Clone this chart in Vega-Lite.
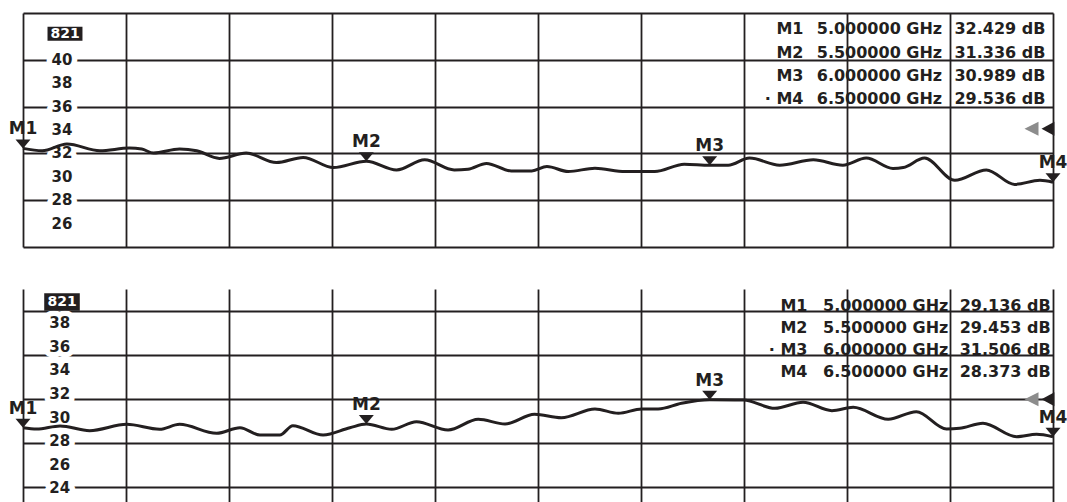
{
  "$schema": "https://vega.github.io/schema/vega-lite/v6.json",
  "padding": {"left": 8, "top": 13, "right": 0, "bottom": 0},
  "background": "white",
  "spacing": 42,
  "config": {
    "view": {"stroke": null},
    "text": {"font": "DejaVu Sans", "fontWeight": "bold", "color": "#231f20"}
  },
  "datasets": {
    "traceTop": [
      {"f": 5.000, "db": 32.429}, {"f": 5.028, "db": 32.22}, {"f": 5.064, "db": 32.80}, {"f": 5.112, "db": 32.22},
      {"f": 5.155, "db": 32.46}, {"f": 5.173, "db": 32.37}, {"f": 5.190, "db": 32.03}, {"f": 5.228, "db": 32.37},
      {"f": 5.253, "db": 32.22}, {"f": 5.286, "db": 31.57}, {"f": 5.325, "db": 32.03}, {"f": 5.369, "db": 31.22},
      {"f": 5.408, "db": 31.66}, {"f": 5.452, "db": 30.79}, {"f": 5.500, "db": 31.336}, {"f": 5.544, "db": 30.59},
      {"f": 5.585, "db": 31.45}, {"f": 5.628, "db": 30.59}, {"f": 5.648, "db": 30.65}, {"f": 5.675, "db": 31.14},
      {"f": 5.711, "db": 30.50}, {"f": 5.741, "db": 30.50}, {"f": 5.763, "db": 30.88}, {"f": 5.794, "db": 30.45},
      {"f": 5.833, "db": 30.73}, {"f": 5.877, "db": 30.45}, {"f": 5.920, "db": 30.45}, {"f": 5.963, "db": 31.08},
      {"f": 6.000, "db": 30.989}, {"f": 6.027, "db": 30.99}, {"f": 6.058, "db": 31.60}, {"f": 6.102, "db": 30.99},
      {"f": 6.151, "db": 31.45}, {"f": 6.194, "db": 30.99}, {"f": 6.228, "db": 31.60}, {"f": 6.267, "db": 30.71},
      {"f": 6.282, "db": 30.79}, {"f": 6.313, "db": 31.60}, {"f": 6.357, "db": 29.70}, {"f": 6.403, "db": 30.59},
      {"f": 6.444, "db": 29.35}, {"f": 6.481, "db": 29.70}, {"f": 6.500, "db": 29.536}
    ],
    "traceBottom": [
      {"f": 5.000, "db": 29.136}, {"f": 5.020, "db": 29.03}, {"f": 5.054, "db": 29.29}, {"f": 5.097, "db": 28.89},
      {"f": 5.151, "db": 29.43}, {"f": 5.199, "db": 29.01}, {"f": 5.228, "db": 29.43}, {"f": 5.282, "db": 28.67},
      {"f": 5.316, "db": 29.14}, {"f": 5.345, "db": 28.52}, {"f": 5.374, "db": 28.52}, {"f": 5.393, "db": 29.31},
      {"f": 5.437, "db": 28.52}, {"f": 5.476, "db": 29.14}, {"f": 5.500, "db": 29.453}, {"f": 5.537, "db": 29.01},
      {"f": 5.573, "db": 29.65}, {"f": 5.619, "db": 28.95}, {"f": 5.663, "db": 29.86}, {"f": 5.702, "db": 29.46},
      {"f": 5.745, "db": 30.28}, {"f": 5.784, "db": 29.99}, {"f": 5.833, "db": 30.73}, {"f": 5.867, "db": 30.36},
      {"f": 5.901, "db": 30.73}, {"f": 5.925, "db": 30.73}, {"f": 5.959, "db": 31.21}, {"f": 6.000, "db": 31.506},
      {"f": 6.049, "db": 31.49}, {"f": 6.095, "db": 30.79}, {"f": 6.136, "db": 31.30}, {"f": 6.178, "db": 30.59},
      {"f": 6.209, "db": 30.87}, {"f": 6.260, "db": 29.86}, {"f": 6.301, "db": 30.50}, {"f": 6.345, "db": 29.03},
      {"f": 6.364, "db": 29.09}, {"f": 6.398, "db": 29.52}, {"f": 6.447, "db": 28.38}, {"f": 6.476, "db": 28.58},
      {"f": 6.500, "db": 28.373}
    ],
    "markersTop": [
      {"m": "M1", "row": 1, "f": 5.0, "db": 32.429, "tag": "M1", "ft": "5.000000 GHz", "vt": "32.429 dB"},
      {"m": "M2", "row": 2, "f": 5.5, "db": 31.336, "tag": "M2", "ft": "5.500000 GHz", "vt": "31.336 dB"},
      {"m": "M3", "row": 3, "f": 6.0, "db": 30.989, "tag": "M3", "ft": "6.000000 GHz", "vt": "30.989 dB"},
      {"m": "M4", "row": 4, "f": 6.5, "db": 29.536, "tag": "· M4", "ft": "6.500000 GHz", "vt": "29.536 dB"}
    ],
    "markersBottom": [
      {"m": "M1", "row": 1, "f": 5.0, "db": 29.136, "tag": "M1", "ft": "5.000000 GHz", "vt": "29.136 dB"},
      {"m": "M2", "row": 2, "f": 5.5, "db": 29.453, "tag": "M2", "ft": "5.500000 GHz", "vt": "29.453 dB"},
      {"m": "M3", "row": 3, "f": 6.0, "db": 31.506, "tag": "· M3", "ft": "6.000000 GHz", "vt": "31.506 dB"},
      {"m": "M4", "row": 4, "f": 6.5, "db": 28.373, "tag": "M4", "ft": "6.500000 GHz", "vt": "28.373 dB"}
    ],
    "labelsTop": [{"db": 26}, {"db": 28}, {"db": 30}, {"db": 32}, {"db": 34}, {"db": 36}, {"db": 38}, {"db": 40}],
    "labelsBottom": [{"db": 24}, {"db": 26}, {"db": 28}, {"db": 30}, {"db": 32}, {"db": 34}, {"db": 36}, {"db": 38}],
    "refTop": [{"db": 34.1}],
    "refBottom": [{"db": 31.55}]
  },
  "vconcat": [
    {
      "width": 1030,
      "height": 234,
      "resolve": {"scale": {"y": "independent"}},
      "layer": [
        {
          "layer": [
            {"data": {"name": "traceTop"}, "mark": {"type": "line", "opacity": 0},
             "encoding": {
               "x": {"field": "f", "type": "quantitative", "scale": {"domain": [5, 6.5], "nice": false, "zero": false},
                     "axis": {"values": [5, 5.15, 5.3, 5.45, 5.6, 5.75, 5.9, 6.05, 6.2, 6.35, 6.5], "labels": false, "ticks": false, "domain": false, "grid": true, "gridColor": "#231f20", "gridWidth": 1.8, "gridOpacity": 1, "title": null}},
               "y": {"field": "db", "type": "quantitative", "scale": {"domain": [24, 44], "nice": false, "zero": false},
                     "axis": {"values": [24, 26, 28, 30, 32, 34, 36, 38, 40, 42, 44], "labels": false, "ticks": false, "domain": false, "grid": true, "gridColor": "#231f20", "gridWidth": 1.8, "gridOpacity": 1, "title": null}}
             }},
            {"data": {"name": "labelsTop"}, "mark": {"type": "text", "fontSize": 15, "baseline": "middle", "align": "center", "stroke": "white", "strokeWidth": 11, "strokeJoin": "round", "fill": "white"},
             "encoding": {"x": {"datum": 5.0568}, "y": {"field": "db", "type": "quantitative"}, "text": {"field": "db", "type": "quantitative"}}},
            {"data": {"name": "labelsTop"}, "mark": {"type": "text", "fontSize": 15, "baseline": "middle", "align": "center"},
             "encoding": {"x": {"datum": 5.0568}, "y": {"field": "db", "type": "quantitative"}, "text": {"field": "db", "type": "quantitative"}}},
            {"data": {"values": [{}]}, "mark": {"type": "rect", "color": "#231f20"},
             "encoding": {"x": {"datum": 5.0357}, "x2": {"datum": 5.0866}, "y": {"datum": 42.83}, "y2": {"datum": 41.63}}},
            {"data": {"values": [{}]}, "mark": {"type": "text", "text": "821", "fontSize": 14, "fill": "white", "baseline": "middle", "align": "center"},
             "encoding": {"x": {"datum": 5.0612}, "y": {"datum": 42.23}}},
            {"data": {"name": "traceTop"}, "mark": {"type": "line", "interpolate": "monotone", "strokeWidth": 3, "color": "#231f20"},
             "encoding": {"x": {"field": "f", "type": "quantitative"}, "y": {"field": "db", "type": "quantitative"}}},
            {"data": {"name": "markersTop"}, "mark": {"type": "point", "shape": "M-1,-1.2L1,-1.2L0,0Z", "size": 225, "filled": true, "opacity": 1, "color": "#231f20"},
             "encoding": {"x": {"field": "f", "type": "quantitative"}, "y": {"field": "db", "type": "quantitative"}}},
            {"data": {"name": "markersTop"}, "mark": {"type": "text", "fontSize": 17, "baseline": "alphabetic", "align": "center", "dy": -14},
             "encoding": {"x": {"field": "f", "type": "quantitative"}, "y": {"field": "db", "type": "quantitative"}, "text": {"field": "m", "type": "nominal"}}},
            {"data": {"name": "refTop"}, "mark": {"type": "point", "shape": "M0.2,-1L0.2,1L-1.64,0Z", "size": 196, "filled": true, "opacity": 1, "color": "#231f20"},
             "encoding": {"x": {"datum": 6.5}, "y": {"field": "db", "type": "quantitative"}}},
            {"data": {"name": "refTop"}, "mark": {"type": "point", "shape": "M-2.07,-1L-2.07,1L-4.07,0Z", "size": 196, "filled": true, "opacity": 1, "color": "#8c8c8c"},
             "encoding": {"x": {"datum": 6.5}, "y": {"field": "db", "type": "quantitative"}}}
          ]
        },
        {
          "data": {"name": "markersTop"},
          "layer": [
            {"mark": {"type": "text", "fontSize": 16, "align": "right", "baseline": "alphabetic"},
             "encoding": {"x": {"datum": 6.1366}, "y": {"field": "row", "type": "quantitative", "scale": {"domain": [0.09, 10.09], "reverse": true, "nice": false, "zero": false}, "axis": null}, "text": {"field": "tag", "type": "nominal"}}},
            {"mark": {"type": "text", "fontSize": 16, "align": "right", "baseline": "alphabetic"},
             "encoding": {"x": {"datum": 6.3386}, "y": {"field": "row", "type": "quantitative"}, "text": {"field": "ft", "type": "nominal"}}},
            {"mark": {"type": "text", "fontSize": 16, "align": "left", "baseline": "alphabetic"},
             "encoding": {"x": {"datum": 6.3565}, "y": {"field": "row", "type": "quantitative"}, "text": {"field": "vt", "type": "nominal"}}}
          ]
        }
      ]
    },
    {
      "width": 1030,
      "height": 213,
      "resolve": {"scale": {"y": "independent"}},
      "layer": [
        {
          "layer": [
            {"data": {"name": "traceBottom"}, "mark": {"type": "line", "opacity": 0},
             "encoding": {
               "x": {"field": "f", "type": "quantitative", "scale": {"domain": [5, 6.5], "nice": false, "zero": false},
                     "axis": {"values": [5, 5.15, 5.3, 5.45, 5.6, 5.75, 5.9, 6.05, 6.2, 6.35, 6.5], "labels": false, "ticks": false, "domain": false, "grid": true, "gridColor": "#231f20", "gridWidth": 1.8, "gridOpacity": 1, "title": null}},
               "y": {"field": "db", "type": "quantitative", "scale": {"domain": [22.84, 40.91], "nice": false, "zero": false},
                     "axis": {"values": [24.11, 25.98, 27.85, 29.71, 31.58, 33.44, 35.31, 37.18, 39.04, 40.91], "labels": false, "ticks": false, "domain": false, "grid": true, "gridColor": "#231f20", "gridWidth": 1.8, "gridOpacity": 1, "title": null}}
             }},
            {"data": {"name": "labelsBottom"}, "mark": {"type": "text", "fontSize": 15, "baseline": "middle", "align": "center", "stroke": "white", "strokeWidth": 11, "strokeJoin": "round", "fill": "white"},
             "encoding": {"x": {"datum": 5.0536}, "y": {"field": "db", "type": "quantitative"}, "text": {"field": "db", "type": "quantitative"}}},
            {"data": {"name": "labelsBottom"}, "mark": {"type": "text", "fontSize": 15, "baseline": "middle", "align": "center"},
             "encoding": {"x": {"datum": 5.0536}, "y": {"field": "db", "type": "quantitative"}, "text": {"field": "db", "type": "quantitative"}}},
            {"data": {"values": [{}]}, "mark": {"type": "rect", "color": "#231f20"},
             "encoding": {"x": {"datum": 5.0309}, "x2": {"datum": 5.0827}, "y": {"datum": 40.54}, "y2": {"datum": 39.07}}},
            {"data": {"values": [{}]}, "mark": {"type": "text", "text": "821", "fontSize": 14, "fill": "white", "baseline": "middle", "align": "center"},
             "encoding": {"x": {"datum": 5.0568}, "y": {"datum": 39.8}}},
            {"data": {"name": "traceBottom"}, "mark": {"type": "line", "interpolate": "monotone", "strokeWidth": 3, "color": "#231f20"},
             "encoding": {"x": {"field": "f", "type": "quantitative"}, "y": {"field": "db", "type": "quantitative"}}},
            {"data": {"name": "markersBottom"}, "mark": {"type": "point", "shape": "M-1,-1.2L1,-1.2L0,0Z", "size": 225, "filled": true, "opacity": 1, "color": "#231f20"},
             "encoding": {"x": {"field": "f", "type": "quantitative"}, "y": {"field": "db", "type": "quantitative"}}},
            {"data": {"name": "markersBottom"}, "mark": {"type": "text", "fontSize": 17, "baseline": "alphabetic", "align": "center", "dy": -14},
             "encoding": {"x": {"field": "f", "type": "quantitative"}, "y": {"field": "db", "type": "quantitative"}, "text": {"field": "m", "type": "nominal"}}},
            {"data": {"name": "refBottom"}, "mark": {"type": "point", "shape": "M0.2,-1L0.2,1L-1.64,0Z", "size": 196, "filled": true, "opacity": 1, "color": "#231f20"},
             "encoding": {"x": {"datum": 6.5}, "y": {"field": "db", "type": "quantitative"}}},
            {"data": {"name": "refBottom"}, "mark": {"type": "point", "shape": "M-2.07,-1L-2.07,1L-4.07,0Z", "size": 196, "filled": true, "opacity": 1, "color": "#8c8c8c"},
             "encoding": {"x": {"datum": 6.5}, "y": {"field": "db", "type": "quantitative"}}}
          ]
        },
        {
          "data": {"name": "markersBottom"},
          "layer": [
            {"mark": {"type": "text", "fontSize": 16, "align": "right", "baseline": "alphabetic"},
             "encoding": {"x": {"datum": 6.1424}, "y": {"field": "row", "type": "quantitative", "scale": {"domain": [0, 9.682], "reverse": true, "nice": false, "zero": false}, "axis": null}, "text": {"field": "tag", "type": "nominal"}}},
            {"mark": {"type": "text", "fontSize": 16, "align": "right", "baseline": "alphabetic"},
             "encoding": {"x": {"datum": 6.3477}, "y": {"field": "row", "type": "quantitative"}, "text": {"field": "ft", "type": "nominal"}}},
            {"mark": {"type": "text", "fontSize": 16, "align": "left", "baseline": "alphabetic"},
             "encoding": {"x": {"datum": 6.3641}, "y": {"field": "row", "type": "quantitative"}, "text": {"field": "vt", "type": "nominal"}}}
          ]
        }
      ]
    }
  ]
}
